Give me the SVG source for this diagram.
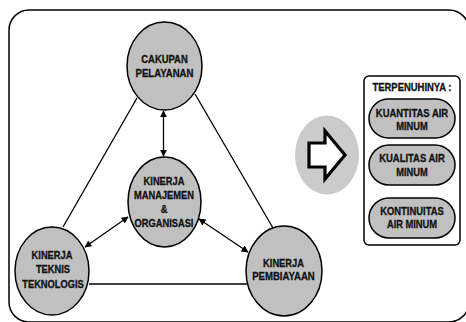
<svg xmlns="http://www.w3.org/2000/svg" width="466" height="322" viewBox="0 0 466 322">
<style>
.n{fill:#c0c0c0;stroke:#000;stroke-width:1.5}
.t{font-family:"Liberation Sans",Arial,sans-serif;font-weight:bold;font-size:10.3px;text-anchor:middle;fill:#111;stroke:#111;stroke-width:0.3}
.c{stroke:#000;stroke-width:1.3;fill:none}
</style>
<defs>
<marker id="ah" viewBox="0 0 10 10" refX="9" refY="5" markerWidth="7" markerHeight="7" orient="auto-start-reverse" markerUnits="userSpaceOnUse">
<path d="M0,0 L10,5 L0,10 z" fill="#000"/>
</marker>
</defs>
<rect x="9" y="10" width="460" height="312" rx="20" fill="#fff" stroke="#000" stroke-width="1.5"/>
<g id="connectors">
<line class="c" x1="137" y1="98" x2="63" y2="227"/>
<line class="c" x1="195" y1="94" x2="273" y2="228"/>
<line class="c" x1="89" y1="284" x2="247" y2="284"/>
<line class="c" x1="163.5" y1="111" x2="163.5" y2="156" marker-start="url(#ah)" marker-end="url(#ah)"/>
<line class="c" x1="128" y1="217" x2="85" y2="247" marker-start="url(#ah)" marker-end="url(#ah)"/>
<line class="c" x1="199" y1="219" x2="248" y2="252" marker-start="url(#ah)" marker-end="url(#ah)"/>
</g>
<g id="cakupan">
<ellipse class="n" cx="164.5" cy="66" rx="37.5" ry="44"/>
<text class="t" x="164.5" y="63" textLength="46.5" lengthAdjust="spacingAndGlyphs">CAKUPAN</text>
<text class="t" x="164.5" y="77" textLength="57.9" lengthAdjust="spacingAndGlyphs">PELAYANAN</text>
</g>
<g id="manajemen">
<ellipse class="n" cx="164.5" cy="202" rx="36.5" ry="45"/>
<text class="t" x="164" y="184.5" textLength="40.8" lengthAdjust="spacingAndGlyphs">KINERJA</text>
<text class="t" x="164" y="198.5" textLength="59.9" lengthAdjust="spacingAndGlyphs">MANAJEMEN</text>
<text class="t" x="164" y="212.5" textLength="6.7" lengthAdjust="spacingAndGlyphs">&amp;</text>
<text class="t" x="164" y="226.5" textLength="58.9" lengthAdjust="spacingAndGlyphs">ORGANISASI</text>
</g>
<g id="teknis">
<ellipse class="n" cx="52" cy="271" rx="37" ry="44"/>
<text class="t" x="52" y="259" textLength="40.8" lengthAdjust="spacingAndGlyphs">KINERJA</text>
<text class="t" x="53" y="273" textLength="34.1" lengthAdjust="spacingAndGlyphs">TEKNIS</text>
<text class="t" x="53" y="288" textLength="61.5" lengthAdjust="spacingAndGlyphs">TEKNOLOGIS</text>
</g>
<g id="pembiayaan">
<ellipse class="n" cx="284" cy="271" rx="38" ry="45"/>
<text class="t" x="283.5" y="266.5" textLength="40.8" lengthAdjust="spacingAndGlyphs">KINERJA</text>
<text class="t" x="283.5" y="280" textLength="62.5" lengthAdjust="spacingAndGlyphs">PEMBIAYAAN</text>
</g>
<g id="arrow">
<ellipse cx="327" cy="155" rx="32" ry="39.5" fill="#cbcbcb"/>
<path d="M309,143 L325,143 L325,131 L345,155 L325,179 L325,167 L309,167 Z" fill="#fff" stroke="#000" stroke-width="3.2" stroke-linejoin="miter"/>
</g>
<g id="terpenuhinya">
<rect x="364" y="76" width="96" height="169" rx="5" fill="#fff" stroke="#000" stroke-width="1.5"/>
<text class="t" x="412" y="91" textLength="79" lengthAdjust="spacingAndGlyphs">TERPENUHINYA :</text>
</g>
<g id="kuantitas">
<rect class="n" x="369" y="99" width="86" height="39" rx="19.5"/>
<text class="t" x="412" y="116.5" textLength="72.3" lengthAdjust="spacingAndGlyphs">KUANTITAS AIR</text>
<text class="t" x="412" y="130" textLength="31.5" lengthAdjust="spacingAndGlyphs">MINUM</text>
</g>
<g id="kualitas">
<rect class="n" x="369" y="145" width="86" height="40" rx="20"/>
<text class="t" x="412" y="162" textLength="65.6" lengthAdjust="spacingAndGlyphs">KUALITAS AIR</text>
<text class="t" x="412" y="175.5" textLength="31.5" lengthAdjust="spacingAndGlyphs">MINUM</text>
</g>
<g id="kontinuitas">
<rect class="n" x="369" y="198" width="86" height="40" rx="20"/>
<text class="t" x="412" y="214.5" textLength="63.5" lengthAdjust="spacingAndGlyphs">KONTINUITAS</text>
<text class="t" x="412" y="228" textLength="50.1" lengthAdjust="spacingAndGlyphs">AIR MINUM</text>
</g>
</svg>
